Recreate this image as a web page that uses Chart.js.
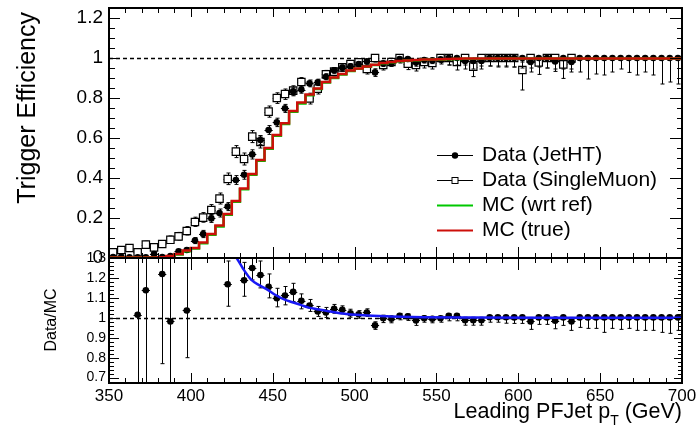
<!DOCTYPE html>
<html><head><meta charset="utf-8">
<script src="https://cdn.jsdelivr.net/npm/chart.js@4.4.0/dist/chart.umd.min.js"></script>
<style>
html,body{margin:0;padding:0;background:#fff;}
#wrap{position:relative;width:697px;height:429px;overflow:hidden;background:#fff;}
canvas{position:absolute;left:0;top:0;}
</style></head><body>
<div id="wrap"><canvas id="cTop" width="697" height="429"></canvas><canvas id="cBot" width="697" height="429"></canvas></div>
<script>
// ---------------- DATA ----------------
const binHalfWidth = 2.5;
const binCenters = [
352.5,357.5,362.5,367.5,372.5,377.5,382.5,387.5,392.5,397.5,
402.5,407.5,412.5,417.5,422.5,427.5,432.5,437.5,442.5,447.5,
452.5,457.5,462.5,467.5,472.5,477.5,482.5,487.5,492.5,497.5,
502.5,507.5,512.5,517.5,522.5,527.5,532.5,537.5,542.5,547.5,
552.5,557.5,562.5,567.5,572.5,577.5,582.5,587.5,592.5,597.5,
602.5,607.5,612.5,617.5,622.5,627.5,632.5,637.5,642.5,647.5,
652.5,657.5,662.5,667.5,672.5,677.5,682.5,687.5,692.5,697.5];
const mcTrue = [
0.002,0.002,0.003,0.003,0.003,0.003,0.004,0.010,0.020,0.037,
0.050,0.078,0.120,0.162,0.220,0.285,0.348,0.420,0.490,0.550,
0.615,0.674,0.735,0.777,0.818,0.848,0.880,0.903,0.920,0.937,
0.948,0.958,0.966,0.975,0.980,0.985,0.988,0.990,0.992,0.993,
0.994,0.995,0.996,0.997,0.997,0.997,0.997,0.997,0.997,0.997,
0.997,0.998,0.998,0.998,0.998,0.998,0.998,0.998,0.998,0.998,
0.998,0.998,0.998,0.998,0.998,0.998,0.998,0.998,0.998,0.998];
const mcWrtRef = [
0.002,0.002,0.003,0.003,0.003,0.003,0.004,0.009,0.018,0.034,
0.047,0.074,0.116,0.158,0.216,0.281,0.344,0.416,0.486,0.546,
0.611,0.670,0.731,0.773,0.814,0.845,0.877,0.900,0.918,0.935,
0.946,0.956,0.965,0.974,0.979,0.984,0.987,0.989,0.991,0.992,
0.993,0.994,0.995,0.996,0.996,0.996,0.996,0.997,0.997,0.997,
0.997,0.997,0.997,0.997,0.997,0.997,0.997,0.997,0.997,0.997,
0.997,0.997,0.997,0.997,0.997,0.997,0.997,0.997,0.997,0.997];
const dataJetHT = [
0.005,0.006,0.004,0.003,0.004,0.020,0.005,0.010,0.033,0.040,
0.087,0.120,0.198,0.225,0.257,0.390,0.416,0.518,0.590,0.640,
0.678,0.748,0.833,0.842,0.873,0.878,0.906,0.938,0.952,0.958,
0.970,0.983,0.928,0.973,0.975,0.995,0.995,0.977,0.990,0.988,
0.993,1.000,1.000,0.985,0.985,0.985,1.000,1.000,1.000,1.000,
1.000,0.980,1.000,1.000,0.983,1.000,0.980,1.000,1.000,1.000,
1.000,1.000,1.000,1.000,1.000,1.000,1.000,1.000,1.000,1.000];
const jetErrLo = [
0.004,0.005,0.003,0.003,0.003,0.010,0.004,0.006,0.010,0.012,
0.015,0.018,0.020,0.020,0.020,0.022,0.022,0.023,0.022,0.022,
0.021,0.020,0.018,0.018,0.017,0.016,0.015,0.014,0.013,0.013,
0.012,0.012,0.020,0.015,0.015,0.012,0.013,0.018,0.015,0.016,
0.016,0.035,0.035,0.040,0.040,0.040,0.040,0.045,0.040,0.045,
0.050,0.050,0.045,0.050,0.050,0.055,0.050,0.070,0.105,0.080,
0.085,0.070,0.055,0.072,0.085,0.070,0.085,0.130,0.120,0.130];
const jetErrHi = [
0.006,0.007,0.005,0.005,0.005,0.012,0.006,0.008,0.010,0.012,
0.015,0.018,0.020,0.020,0.020,0.022,0.022,0.023,0.022,0.022,
0.021,0.020,0.018,0.018,0.017,0.016,0.015,0.014,0.013,0.013,
0.012,0.010,0.018,0.010,0.010,0.005,0.005,0.010,0.008,0.008,
0.006,0.000,0.000,0.012,0.012,0.012,0.000,0.000,0.000,0.000,
0.000,0.015,0.000,0.000,0.013,0.000,0.015,0.000,0.000,0.000,
0.000,0.000,0.000,0.000,0.000,0.000,0.000,0.000,0.000,0.000];
const dataSingleMuon = [
0.028,0.040,0.050,0.028,0.067,0.053,0.070,0.091,0.108,0.135,
0.180,0.202,0.240,0.297,0.395,0.532,0.495,0.607,0.580,0.732,
0.800,0.820,0.837,0.880,0.798,0.847,0.918,0.932,0.953,0.970,
0.978,0.945,1.000,0.965,0.980,1.000,0.972,0.965,0.980,0.975,
1.000,1.000,0.980,1.000,0.957,1.000,1.000,1.000,1.000,1.000,
0.940,1.000,0.978,1.000,1.000,0.968,1.000,null,null,null,
null,null,null,null,null,null,null,null,null,null];
const muErrLo = [
0.010,0.012,0.013,0.010,0.015,0.013,0.015,0.017,0.018,0.020,
0.022,0.023,0.025,0.027,0.028,0.030,0.030,0.030,0.030,0.028,
0.027,0.027,0.026,0.025,0.028,0.027,0.022,0.022,0.020,0.018,
0.018,0.025,0.020,0.025,0.022,0.025,0.030,0.030,0.030,0.030,
0.030,0.035,0.040,0.035,0.050,0.040,0.040,0.040,0.045,0.045,
0.100,0.050,0.060,0.050,0.055,0.070,0.055,null,null,null,
null,null,null,null,null,null,null,null,null,null];
const muErrHi = [
0.012,0.014,0.015,0.012,0.017,0.015,0.017,0.019,0.020,0.022,
0.024,0.025,0.027,0.028,0.030,0.030,0.030,0.030,0.030,0.028,
0.026,0.025,0.024,0.022,0.026,0.024,0.020,0.018,0.015,0.012,
0.012,0.020,0.000,0.015,0.012,0.000,0.015,0.018,0.012,0.015,
0.000,0.000,0.012,0.000,0.025,0.000,0.000,0.000,0.000,0.000,
0.040,0.000,0.015,0.000,0.000,0.020,0.000,null,null,null,
null,null,null,null,null,null,null,null,null,null];
const ratioDataMC = [
null,null,null,1.015,1.138,null,1.220,0.982,null,1.037,
null,null,null,null,1.168,null,1.188,1.250,1.215,1.155,
1.098,1.112,1.130,1.085,1.062,1.032,1.027,1.045,1.040,1.023,
1.018,1.027,0.962,0.998,0.995,1.010,1.007,0.987,0.998,0.995,
0.998,1.010,1.010,0.988,0.988,0.988,1.003,1.003,1.003,1.002,
1.002,0.982,1.002,1.002,0.985,1.002,0.982,1.002,1.002,1.002,
1.002,1.002,1.002,1.002,1.002,1.002,1.002,1.002,1.002,1.002];
const ratioErrLo = [
null,null,null,1.0,1.0,null,0.45,1.0,null,0.237,
null,null,null,null,0.11,null,0.08,0.06,0.065,0.055,
0.043,0.047,0.048,0.04,0.03,0.025,0.025,0.022,0.02,0.02,
0.02,0.02,0.02,0.022,0.02,0.02,0.02,0.025,0.02,0.02,
0.02,0.025,0.025,0.025,0.025,0.025,0.025,0.025,0.03,0.03,
0.03,0.04,0.035,0.035,0.04,0.04,0.045,0.05,0.055,0.055,
0.075,0.055,0.06,0.055,0.065,0.065,0.065,0.075,0.08,0.065];
const ratioErrHi = [
null,null,null,1.0,1.0,null,0.3,1.0,null,0.4,
null,null,null,null,0.117,null,0.09,0.05,0.07,0.065,
0.05,0.045,0.043,0.035,0.03,0.025,0.025,0.022,0.02,0.02,
0.018,0.018,0.018,0.015,0.015,0.012,0.012,0.015,0.012,0.012,
0.01,0.01,0.01,0.015,0.015,0.015,0.008,0.008,0.008,0.008,
0.008,0.02,0.008,0.008,0.02,0.008,0.02,0.005,0.005,0.005,
0.005,0.005,0.005,0.005,0.005,0.005,0.005,0.005,0.005,0.005];
const fitPt    = [428,432,437,442,447,452,457,462,467,472,477,482,491,501,511,522,542,570,620,700];
const fitRatio = [1.30,1.245,1.19,1.163,1.14,1.113,1.092,1.078,1.065,1.051,1.043,1.036,1.023,1.015,1.01,1.007,1.003,1.001,1.0,1.0];
const xTickLabels = [350,400,450,500,550,600,650,700];
const effTickLabels = [0,0.2,0.4,0.6,0.8,1,1.2];
const ratioTickLabels = [0.7,0.8,0.9,1,1.1,1.2,1.3];
const legendLabels = ['Data (JetHT)','Data (SingleMuon)','MC (wrt ref)','MC (true)'];
const xTitleMain = 'Leading PFJet p', xTitleSub = 'T', xTitleUnit = ' (GeV)';
const yTitleTop = 'Trigger Efficiency', yTitleBot = 'Data/MC';

// ---------------- helpers ----------------
const FONT = "'Liberation Sans', Arial, Helvetica, sans-serif";
const RED = 'rgb(205,15,10)', GREEN = 'rgb(0,200,0)', BLUE = 'rgb(25,25,245)';
function pts(vals){ return binCenters.map((c,i)=>({x:c, y:vals[i]})); }
function histPts(vals){
  const p = binCenters.map((c,i)=>({x:c-binHalfWidth, y:vals[i]}));
  p.push({x:binCenters[binCenters.length-1]+binHalfWidth, y:vals[vals.length-1]});
  return p;
}

const errorBarPlugin = {
  id:'errbars',
  beforeDatasetDraw(chart, args){
    const ds = chart.data.datasets[args.index];
    if(!ds.errLo) return;
    const xs = chart.scales.x, ys = chart.scales.y, ctx = chart.ctx, a = chart.chartArea;
    ctx.save();
    ctx.beginPath(); ctx.rect(a.left, a.top, a.right-a.left, a.bottom-a.top); ctx.clip();
    ctx.strokeStyle = '#000'; ctx.lineWidth = 1;
    ds.data.forEach((p,i)=>{
      if(p.y===null || p.y===undefined) return;
      const px = Math.round(xs.getPixelForValue(p.x))+0.5;
      const py = Math.round(ys.getPixelForValue(p.y))+0.5;
      const lo = ds.errLo[i]||0, hi = ds.errHi[i]||0;
      const yl = ys.getPixelForValue(p.y-lo), yh = ys.getPixelForValue(p.y+hi);
      const xl = xs.getPixelForValue(p.x-binHalfWidth), xr = xs.getPixelForValue(p.x+binHalfWidth);
      ctx.beginPath();
      ctx.moveTo(xl,py); ctx.lineTo(xr,py);
      ctx.moveTo(px,yl); ctx.lineTo(px,yh);
      if(lo>0){ ctx.moveTo(px-2,yl); ctx.lineTo(px+2,yl); }
      if(hi>0){ ctx.moveTo(px-2,yh); ctx.lineTo(px+2,yh); }
      ctx.stroke();
    });
    ctx.restore();
  }
};

function framePlugin(cfg){
  return {
    id:'frame',
    beforeDatasetsDraw(chart){
      const {ctx, chartArea:a} = chart, ys = chart.scales.y;
      const y = Math.round(ys.getPixelForValue(1))+0.5;
      ctx.save(); ctx.setLineDash([4,3]); ctx.lineWidth = 1.5; ctx.strokeStyle = '#000';
      ctx.beginPath(); ctx.moveTo(a.left,y); ctx.lineTo(a.right,y); ctx.stroke(); ctx.restore();
    },
    afterDatasetsDraw(chart){
      const {ctx, chartArea:a} = chart, xs = chart.scales.x, ys = chart.scales.y;
      ctx.save(); ctx.strokeStyle = '#000'; ctx.lineWidth = 1;
      ctx.beginPath();
      for(let v=350; v<=700; v+=10){
        const x = Math.round(xs.getPixelForValue(v))+0.5;
        const major = v%50===0;
        ctx.moveTo(x,a.bottom); ctx.lineTo(x,a.bottom-(major?cfg.xb[0]:cfg.xb[1]));
        ctx.moveTo(x,a.top); ctx.lineTo(x,a.top+(major?cfg.xt[0]:cfg.xt[1]));
      }
      const n = Math.round((cfg.yMax-cfg.yStart)/cfg.yMinor);
      for(let k=0;k<=n;k++){
        const v = cfg.yStart + k*cfg.yMinor;
        if(v<ys.min-1e-9 || v>ys.max+1e-9) continue;
        const y = Math.round(ys.getPixelForValue(v))+0.5;
        const major = Math.abs(v/cfg.yMajor - Math.round(v/cfg.yMajor))<1e-6;
        ctx.moveTo(a.left,y); ctx.lineTo(a.left+(major?cfg.yl[0]:cfg.yl[1]),y);
        ctx.moveTo(a.right,y); ctx.lineTo(a.right-(major?cfg.yr[0]:cfg.yr[1]),y);
      }
      ctx.stroke();
      ctx.lineWidth = 2;
      ctx.strokeRect(a.left, a.top, a.right-a.left, a.bottom-a.top);
      ctx.restore();
    }
  };
}

const textTopPlugin = {
  id:'textTop',
  afterDraw(chart){
    const ctx = chart.ctx;
    ctx.save();
    ctx.fillStyle = '#000';
    ctx.font = '25px '+FONT;
    ctx.translate(28, 12); ctx.rotate(-Math.PI/2);
    ctx.textAlign = 'right'; ctx.textBaseline = 'middle';
    ctx.fillText(yTitleTop, 0, 0);
    ctx.restore();
    // legend
    ctx.save();
    const lx0 = 437, lx1 = 473, tx = 482, rows = [155,180,205,230];
    ctx.font = '21px '+FONT; ctx.textBaseline = 'middle'; ctx.textAlign = 'left'; ctx.fillStyle = '#000';
    legendLabels.forEach((lab,i)=>{
      const y = rows[i]+0.5;
      ctx.beginPath(); ctx.moveTo(lx0,y); ctx.lineTo(lx1,y);
      if(i===0){ ctx.strokeStyle='#000'; ctx.lineWidth=1; ctx.stroke();
        ctx.beginPath(); ctx.arc((lx0+lx1)/2, y, 3.2, 0, Math.PI*2); ctx.fillStyle='#000'; ctx.fill(); }
      else if(i===1){ ctx.strokeStyle='#000'; ctx.lineWidth=1; ctx.stroke();
        ctx.fillStyle='#fff'; ctx.fillRect((lx0+lx1)/2-3, y-3, 6, 6); ctx.strokeRect((lx0+lx1)/2-3, y-3, 6, 6); }
      else { ctx.strokeStyle = i===2?GREEN:RED; ctx.lineWidth=2; ctx.stroke(); }
      ctx.fillStyle='#000';
      ctx.fillText(lab, tx, rows[i]);
    });
    ctx.restore();
  }
};

const textBotPlugin = {
  id:'textBot',
  afterDraw(chart){
    const ctx = chart.ctx;
    ctx.save(); ctx.fillStyle='#000';
    ctx.font = '16px '+FONT;
    ctx.translate(52, 320); ctx.rotate(-Math.PI/2);
    ctx.textAlign='center'; ctx.textBaseline='middle';
    ctx.fillText(yTitleBot, 0, 0);
    ctx.restore();
    ctx.save(); ctx.fillStyle='#000'; ctx.textBaseline='alphabetic'; ctx.textAlign='left';
    const fMain = '21.5px '+FONT, fSub = '14px '+FONT;
    ctx.font = fMain; const w1 = ctx.measureText(xTitleMain).width, w3 = ctx.measureText(xTitleUnit).width;
    ctx.font = fSub; const w2 = ctx.measureText(xTitleSub).width;
    const right = 682, base = 418;
    let x = right - (w1+w2+w3);
    ctx.font = fMain; ctx.fillText(xTitleMain, x, base); x += w1;
    ctx.font = fSub; ctx.fillText(xTitleSub, x, base+7); x += w2;
    ctx.font = fMain; ctx.fillText(xTitleUnit, x, base);
    ctx.restore();
  }
};

function fitY(s){ s.width = 109; s.paddingTop = 0; s.paddingBottom = 0; }
function fitX(s){ s.height = 46; s.paddingLeft = 0; s.paddingRight = 0; }

// ---------------- TOP CHART ----------------
new Chart(document.getElementById('cTop'), {
  type:'line',
  data:{ datasets:[
    { label:'MC (true)', data:histPts(mcTrue), stepped:'before', borderColor:RED, borderWidth:2.5, pointRadius:0, fill:false, order:1 },
    { label:'MC (wrt ref)', data:histPts(mcWrtRef), stepped:'before', borderColor:GREEN, borderWidth:2.5, pointRadius:0, fill:false, order:2 },
    { label:'Data (JetHT)', data:pts(dataJetHT), showLine:false, pointStyle:'circle', pointRadius:3.3, pointBackgroundColor:'#000', pointBorderWidth:0, errLo:jetErrLo, errHi:jetErrHi, order:3 },
    { label:'Data (SingleMuon)', data:pts(dataSingleMuon), showLine:false, pointStyle:'rect', pointRadius:5.2, pointBackgroundColor:'#fff', pointBorderColor:'#000', pointBorderWidth:1.2, errLo:muErrLo, errHi:muErrHi, order:4 }
  ]},
  options:{
    responsive:false, animation:false, devicePixelRatio:1, events:[],
    layout:{ padding:{ top:8, right:15, bottom:171, left:0 } },
    plugins:{ legend:{display:false}, tooltip:{enabled:false} },
    scales:{
      x:{ type:'linear', min:350, max:700, display:false },
      y:{ type:'linear', min:0, max:1.25,
          afterFit:fitY,
          afterBuildTicks(s){ s.ticks = effTickLabels.map(v=>({value:v})); },
          grid:{display:false, drawTicks:false}, border:{display:false},
          ticks:{ color:'#000', padding:6, font:{family:FONT, size:19}, callback:v=>String(v) } }
    }
  },
  plugins:[errorBarPlugin, framePlugin({xb:[11,5], xt:[9,5], yl:[11,6], yr:[12,5], yStart:0, yMax:1.25, yMinor:0.05, yMajor:0.2}), textTopPlugin]
});

// ---------------- RATIO CHART ----------------
new Chart(document.getElementById('cBot'), {
  type:'line',
  data:{ datasets:[
    { label:'fit', data:fitPt.map((x,i)=>({x, y:fitRatio[i]})), borderColor:BLUE, borderWidth:2.5, pointRadius:0, cubicInterpolationMode:'monotone', fill:false, order:1 },
    { label:'Data/MC', data:pts(ratioDataMC), showLine:false, pointStyle:'circle', pointRadius:3.3, pointBackgroundColor:'#000', pointBorderWidth:0, errLo:ratioErrLo, errHi:ratioErrHi, order:2 }
  ]},
  options:{
    responsive:false, animation:false, devicePixelRatio:1, events:[],
    layout:{ padding:{ top:258, right:15, bottom:0, left:0 } },
    plugins:{ legend:{display:false}, tooltip:{enabled:false} },
    scales:{
      x:{ type:'linear', min:350, max:700,
          afterFit:fitX,
          afterBuildTicks(s){ s.ticks = xTickLabels.map(v=>({value:v})); },
          grid:{display:false, drawTicks:false}, border:{display:false},
          ticks:{ color:'#000', padding:3, maxRotation:0, autoSkip:false, font:{family:FONT, size:17}, callback:v=>String(v) } },
      y:{ type:'linear', min:0.673, max:1.3,
          afterFit:fitY,
          afterBuildTicks(s){ s.ticks = ratioTickLabels.map(v=>({value:v})); },
          grid:{display:false, drawTicks:false}, border:{display:false},
          ticks:{ color:'#000', padding:3, font:{family:FONT, size:14}, callback:v=>String(v) } }
    }
  },
  plugins:[errorBarPlugin, framePlugin({xb:[10,5], xt:[12,5], yl:[10,5], yr:[8,4], yStart:0.68, yMax:1.3, yMinor:0.02, yMajor:0.1}), textBotPlugin]
});
</script>
</body></html>
